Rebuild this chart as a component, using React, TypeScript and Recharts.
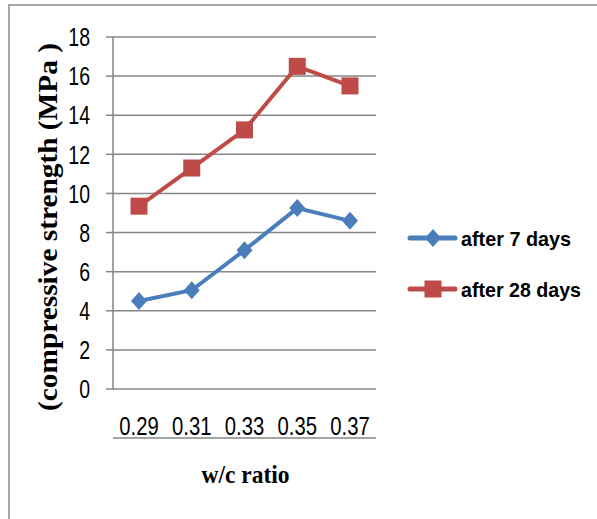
import React from "react";
import {
  LineChart,
  Line,
  CartesianGrid,
  XAxis,
  YAxis,
  Legend,
  Label,
} from "recharts";

const ratios = ["0.29", "0.31", "0.33", "0.35", "0.37"];
const after7 = [4.5, 5.05, 7.1, 9.25, 8.6];
const after28 = [9.35, 11.3, 13.25, 16.5, 15.5];
const yTicks = [0, 2, 4, 6, 8, 10, 12, 14, 16, 18];
const frameTicks = [0, 1, 2, 3, 4, 5];

const data = ratios.map((r, i) => ({ ratio: r, d7: after7[i], d28: after28[i] }));

const BLUE = "#4a7ebb";
const RED = "#be4b48";
const GRID = "#868686";
const tickFont = "'Liberation Sans', Arial, sans-serif";

// narrow digits like the original (Calibri-ish), squeezed horizontally
const XTick = (props: any) => {
  const { x, y, payload } = props;
  return (
    <g transform={`translate(${x},${y})`}>
      <text transform="scale(0.78,1)" textAnchor="middle" dy="0.71em" fontFamily={tickFont} fontSize={26} fill="#000">
        {payload.value}
      </text>
    </g>
  );
};

const YTick = (props: any) => {
  const { x, y, payload } = props;
  return (
    <g transform={`translate(${x},${y})`}>
      <text transform="scale(0.75,1)" textAnchor="end" dy="0.355em" fontFamily={tickFont} fontSize={26} fill="#000">
        {payload.value}
      </text>
    </g>
  );
};

const Diamond = (props: any) => {
  const { cx, cy, index } = props;
  if (cx == null || cy == null) return null;
  return (
    <path
      key={`d-${index}`}
      d={`M${cx},${cy - 9} L${cx + 8},${cy} L${cx},${cy + 9} L${cx - 8},${cy} Z`}
      fill={BLUE}
    />
  );
};

const Square = (props: any) => {
  const { cx, cy, index } = props;
  if (cx == null || cy == null) return null;
  return <rect key={`s-${index}`} x={cx - 8.5} y={cy - 8.5} width={17} height={17} fill={RED} />;
};

const renderLegend = () => {
  const items = [
    { label: "after 7 days", color: BLUE, marker: "diamond" },
    { label: "after 28 days", color: RED, marker: "square" },
  ];
  return (
    <svg width={190} height={100}>
      {items.map((it, i) => {
        const y = 23 + i * 51;
        return (
          <g key={it.label}>
            <line x1={10} x2={55} y1={y} y2={y} stroke={it.color} strokeWidth={5} strokeLinecap="round" />
            {it.marker === "diamond" ? (
              <path d={`M33,${y - 9} L41,${y} L33,${y + 9} L25,${y} Z`} fill={it.color} />
            ) : (
              <rect x={24.5} y={y - 8.5} width={17} height={17} fill={it.color} />
            )}
            <text
              x={61}
              y={y + 8}
              fontFamily="'Liberation Sans', Arial, sans-serif"
              fontWeight="bold"
              fontSize={21}
              textLength={it.label.length > 12 ? 120 : 110}
              lengthAdjust="spacingAndGlyphs"
              fill="#000"
            >
              {it.label}
            </text>
          </g>
        );
      })}
    </svg>
  );
};

export default function App() {
  return (
    <div style={{ position: "absolute", left: 0, top: 0, width: 597, height: 519, background: "#fff", overflow: "hidden" }}>
      <div
        style={{
          position: "absolute",
          left: 8,
          top: 4,
          width: 620,
          height: 540,
          borderLeft: "2px solid #a6a6a6",
          borderTop: "2px solid #a6a6a6",
        }}
      />
      <div style={{ position: "absolute", left: 0, top: 0 }}>
        <LineChart width={597} height={519} data={data} margin={{ top: 37, right: 221, bottom: 80, left: 53 }}>
          <CartesianGrid horizontal vertical={false} stroke={GRID} strokeWidth={1.5} />
          <XAxis
            xAxisId="frame"
            type="number"
            domain={[0, 5]}
            ticks={frameTicks}
            allowDataOverflow
            tick={false}
            tickSize={8}
            height={1}
            axisLine={{ stroke: GRID, strokeWidth: 1.5 }}
            tickLine={{ stroke: GRID, strokeWidth: 1.5 }}
          />
          <XAxis
            xAxisId="cat"
            dataKey="ratio"
            padding={{ left: 26, right: 26 }}
            axisLine={false}
            tickLine={false}
            tickSize={0}
            tickMargin={28}
            height={49}
            interval={0}
            tick={<XTick />}
          >
            <Label
              content={(p: any) => {
                const vb = p.viewBox || {};
                return (
                  <text
                    x={vb.x + vb.width / 2 + 1}
                    y={vb.y + vb.height + 45}
                    textAnchor="middle"
                    fontFamily="'Liberation Serif', 'Times New Roman', serif"
                    fontWeight="bold"
                    fontSize={25}
                    textLength={88}
                    lengthAdjust="spacingAndGlyphs"
                    fill="#000"
                  >
                    w/c ratio
                  </text>
                );
              }}
            />
          </XAxis>
          <YAxis
            domain={[0, 18]}
            ticks={yTicks}
            interval={0}
            width={60}
            tickSize={7}
            tickMargin={16}
            axisLine={{ stroke: GRID, strokeWidth: 1.5 }}
            tickLine={{ stroke: GRID, strokeWidth: 1.5 }}
            tick={<YTick />}
          >
            <Label
              content={(p: any) => {
                const vb = p.viewBox || {};
                const cx = vb.x + 4;
                const cy = vb.y + vb.height / 2 + 14;
                return (
                  <text
                    x={cx}
                    y={cy}
                    transform={`rotate(-90, ${cx}, ${cy})`}
                    textAnchor="middle"
                    fontFamily="'Liberation Serif', 'Times New Roman', serif"
                    fontWeight="bold"
                    fontSize={27}
                    textLength={368}
                    lengthAdjust="spacingAndGlyphs"
                    fill="#000"
                  >
                    (compressive strength (MPa )
                  </text>
                );
              }}
            />
          </YAxis>
          <Legend
            layout="horizontal"
            align="center"
            verticalAlign="middle"
            wrapperStyle={{ position: "absolute", left: 400, top: 215, width: 190, height: 100 }}
            content={renderLegend}
          />
          <Line
            xAxisId="cat"
            dataKey="d7"
            name="after 7 days"
            stroke={BLUE}
            strokeWidth={4}
            dot={<Diamond />}
            activeDot={false}
            isAnimationActive={false}
          />
          <Line
            xAxisId="cat"
            dataKey="d28"
            name="after 28 days"
            stroke={RED}
            strokeWidth={4}
            dot={<Square />}
            activeDot={false}
            isAnimationActive={false}
          />
        </LineChart>
      </div>
    </div>
  );
}
